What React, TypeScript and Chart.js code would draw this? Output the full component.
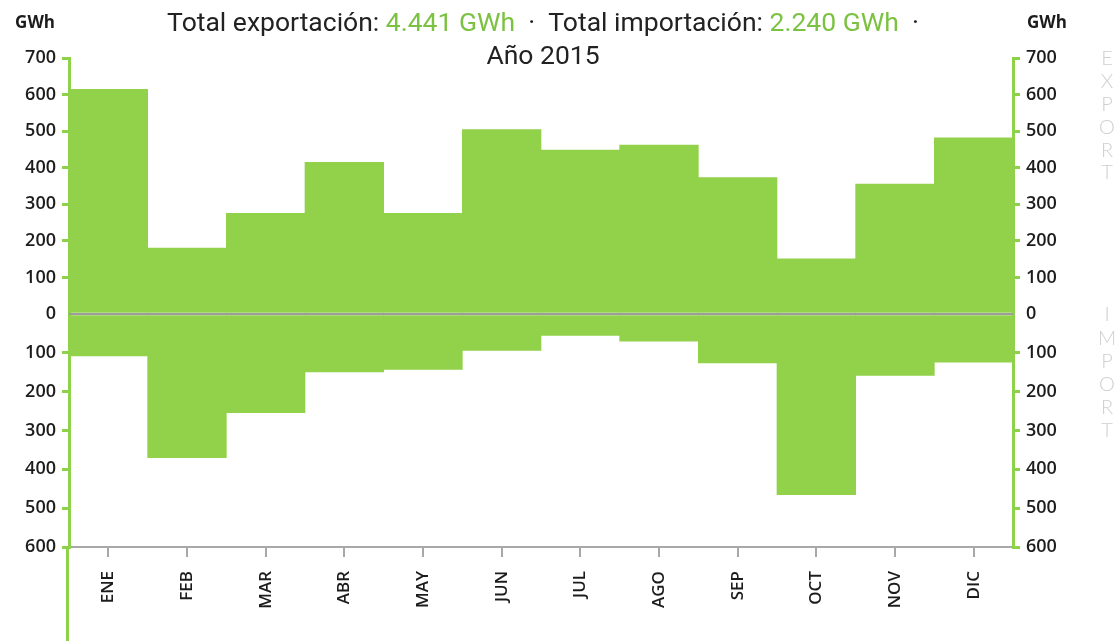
import React, { useEffect, useRef } from 'react';
import { Chart, registerables } from 'chart.js';

Chart.register(...registerables);

// ---- data ----
const months = ['ENE', 'FEB', 'MAR', 'ABR', 'MAY', 'JUN', 'JUL', 'AGO', 'SEP', 'OCT', 'NOV', 'DIC'];
const exportGWh = [614, 180, 275, 415, 275, 504, 448, 462, 373, 151, 355, 482];
const importGWh = [108, 370, 254, 149, 143, 94, 55, 70, 126, 465, 158, 124];
const exportAxisMax = 700;
const importAxisMax = 600;
const tickStep = 100;
const titleParts = [
  { text: 'Total exportación: ', green: false },
  { text: '4.441 GWh', green: true },
  { text: '  ·  Total importación: ', green: false },
  { text: '2.240 GWh', green: true },
  { text: '  ·', green: false },
];
const titleLine2 = 'Año 2015';
const unitLabel = 'GWh';
const exportWord = 'EXPORT';
const importWord = 'IMPORT';

// ---- styles ----
const BAR_GREEN = '#92d14a';
const AXIS_GREEN = '#8ed24a';
const TITLE_GREEN = '#7cc242';
const TEXT = '#1c1c1c';
const GREY_LINE = '#9c9c9c';
const W = 1119;
const H = 641;

const tickFont = { family: "'Open Sans', sans-serif", size: 18, weight: '600' as const };

function yAxis(position: 'left' | 'right', stack: string, max: number, reverse: boolean, weight: number) {
  return {
    type: 'linear' as const,
    position,
    stack,
    stackWeight: weight,
    min: 0,
    max,
    reverse,
    afterFit: (s: any) => {
      s.width = position === 'left' ? 69 : 106;
    },
    border: { display: true, color: AXIS_GREEN, width: 3 },
    grid: {
      drawOnChartArea: false,
      drawTicks: true,
      tickLength: 7,
      lineWidth: 3,
      tickColor: (c: any) => (c.tick && c.tick.value === 0 ? 'rgba(0,0,0,0)' : AXIS_GREEN),
    },
    ticks: {
      stepSize: tickStep,
      autoSkip: false,
      padding: 6,
      color: TEXT,
      font: tickFont,
      callback: (v: any) => (reverse && v === 0 ? '' : String(v)),
    },
  };
}

const decorPlugin = {
  id: 'decor',
  afterDatasetsDraw(chart: any) {
    const { ctx, chartArea, scales } = chart;
    const y0 = scales.yExpL.getPixelForValue(0);
    ctx.save();
    ctx.strokeStyle = GREY_LINE;
    ctx.lineWidth = 2;
    ctx.beginPath();
    ctx.moveTo(chartArea.left, y0);
    ctx.lineTo(chartArea.right, y0);
    ctx.stroke();
    ctx.restore();
  },
  afterDraw(chart: any) {
    const { ctx, chartArea, scales } = chart;
    ctx.save();
    // left axis extends down to the bottom edge
    const lx = scales.yImpL.right - 1.5;
    ctx.strokeStyle = AXIS_GREEN;
    ctx.lineWidth = 3;
    ctx.beginPath();
    ctx.moveTo(lx, chartArea.bottom);
    ctx.lineTo(lx, H);
    ctx.stroke();

    // unit labels
    ctx.fillStyle = TEXT;
    ctx.font = "700 17px 'Open Sans', sans-serif";
    ctx.textBaseline = 'alphabetic';
    ctx.textAlign = 'right';
    ctx.fillText(unitLabel, scales.yExpL.right - 14, 28);
    ctx.textAlign = 'left';
    ctx.fillText(unitLabel, scales.yExpR.left + 14, 28);

    // title
    ctx.font = "26.5px Roboto, sans-serif";
    const cx = (chartArea.left + chartArea.right) / 2 + 2;
    let total = 0;
    for (const p of titleParts) total += ctx.measureText(p.text).width;
    let x = cx - total / 2;
    ctx.textAlign = 'left';
    for (const p of titleParts) {
      ctx.fillStyle = p.green ? TITLE_GREEN : '#222';
      ctx.fillText(p.text, x, 31);
      x += ctx.measureText(p.text).width;
    }
    ctx.fillStyle = '#222';
    ctx.textAlign = 'center';
    ctx.fillText(titleLine2, cx, 64);

    // vertical side words
    ctx.fillStyle = '#cfcfcf';
    ctx.font = "300 20px Lato, sans-serif";
    ctx.textAlign = 'center';
    ctx.textBaseline = 'middle';
    const sx = 1107;
    const top = scales.yExpL.getPixelForValue(exportAxisMax);
    exportWord.split('').forEach((ch, i) => ctx.fillText(ch, sx, top + 1 + i * 22.8));
    const zero = scales.yExpL.getPixelForValue(0);
    importWord.split('').forEach((ch, i) => ctx.fillText(ch, sx, zero + 1 + i * 23.2));
    ctx.restore();
  },
};

export default function App() {
  const ref = useRef<HTMLCanvasElement | null>(null);
  useEffect(() => {
    if (!ref.current) return;
    const chart = new Chart(ref.current, {
      type: 'bar',
      data: {
        labels: months,
        datasets: [
          {
            label: 'Exportación',
            data: exportGWh,
            yAxisID: 'yExpL',
            backgroundColor: BAR_GREEN,
            borderWidth: 0,
            grouped: false,
            barPercentage: 1,
            categoryPercentage: 1,
          },
          {
            label: 'Importación',
            data: importGWh,
            yAxisID: 'yImpL',
            backgroundColor: BAR_GREEN,
            borderWidth: 0,
            grouped: false,
            barPercentage: 1,
            categoryPercentage: 1,
          },
        ],
      },
      options: {
        responsive: false,
        animation: false,
        devicePixelRatio: 1,
        layout: { padding: { top: 58, left: 0, right: 0, bottom: 0 } },
        plugins: { legend: { display: false }, tooltip: { enabled: false }, title: { display: false } },
        scales: {
          x: {
            type: 'category',
            offset: true,
            afterFit: (s: any) => {
              s.height = H - 547;
            },
            border: { display: true, color: '#a8a8a8', width: 2 },
            grid: { offset: false, drawOnChartArea: false, drawTicks: true, tickLength: 10, color: '#a8a8a8', lineWidth: 2 },
            ticks: {
              minRotation: 90,
              maxRotation: 90,
              padding: 14,
              color: TEXT,
              font: { family: "'Open Sans', sans-serif", size: 17, weight: '600' },
            },
          },
          // left-side stacked boxes are laid out in reverse order of definition
          yImpL: yAxis('left', 'L', importAxisMax, true, 233),
          yExpL: yAxis('left', 'L', exportAxisMax, false, 256),
          yExpR: yAxis('right', 'R', exportAxisMax, false, 256),
          yImpR: yAxis('right', 'R', importAxisMax, true, 233),
        } as any,
      },
      plugins: [decorPlugin],
    });
    return () => chart.destroy();
  }, []);
  return (
    <div style={{ position: 'fixed', left: 0, top: 0, width: W, height: H, background: '#fff' }}>
      <canvas ref={ref} width={W} height={H} style={{ display: 'block' }} />
    </div>
  );
}
